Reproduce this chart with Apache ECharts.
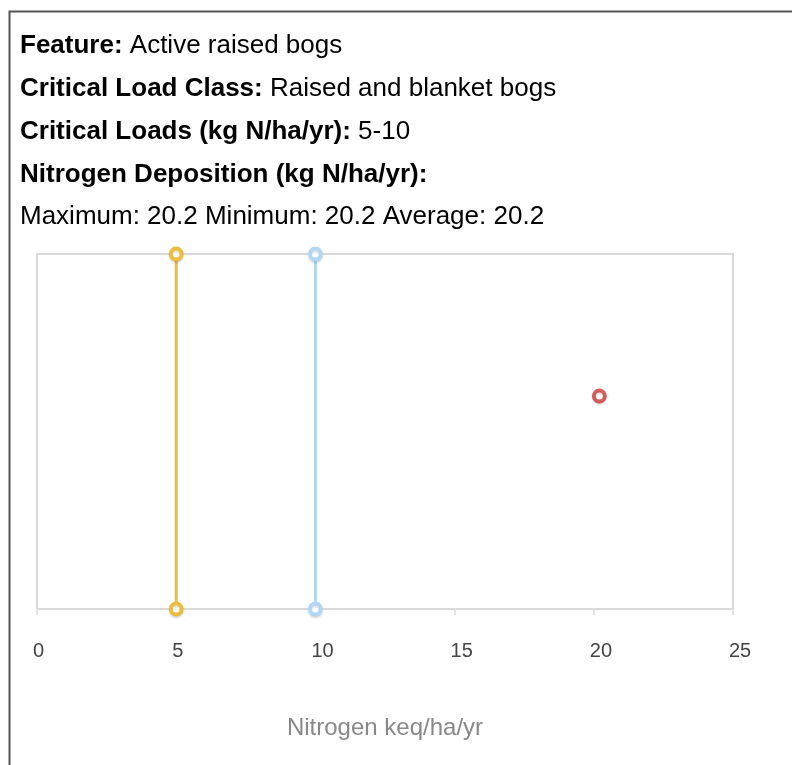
<!DOCTYPE html>
<html>
<head>
<meta charset="utf-8">
<script src="https://cdn.jsdelivr.net/npm/echarts@6/dist/echarts.min.js"></script>
<style>
html,body{margin:0;padding:0;background:#fff;}
#chart{width:792px;height:765px;}
</style>
</head>
<body>
<div id="chart"></div>
<script>
// ---- data ----
var infoLabels = ['Feature:', 'Critical Load Class:', 'Critical Loads (kg N/ha/yr):', 'Nitrogen Deposition (kg N/ha/yr):', ''];
var infoValues = ['Active raised bogs', 'Raised and blanket bogs', '5-10', '', 'Maximum: 20.2 Minimum: 20.2 Average: 20.2'];
var criticalLoadLow = [[5, 0], [5, 1]];
var criticalLoadHigh = [[10, 0], [10, 1]];
var deposition = [[20.2, 0.6]];
var xTicks = [0, 5, 10, 15, 20, 25];
var xAxisName = 'Nitrogen keq/ha/yr';

var FONT = '"Liberation Sans", Arial, sans-serif';
var chart = echarts.init(document.getElementById('chart'), null, {renderer: 'canvas'});

var lineYs = [45, 88, 131, 174, 216];
var texts = infoLabels.map(function (lab, i) {
  var t = (lab ? '{b|' + lab + '}' : '') + (infoValues[i] ? (lab ? ' ' : '') + '{r|' + infoValues[i] + '}' : '');
  return {
    type: 'text', left: 20, top: lineYs[i] - 12, silent: true,
    style: {
      text: t, fontFamily: FONT, fontSize: 26,
      rich: {
        b: {fontWeight: 'bold', color: '#222', fontSize: 26, fontFamily: FONT},
        r: {color: '#333', fontSize: 26, fontFamily: FONT}
      }
    }
  };
});
texts.unshift({
  type: 'rect', left: 7, top: 9, silent: true, z: -1,
  shape: {width: 800, height: 800},
  style: {fill: 'none', stroke: '#555', lineWidth: 2}
});

var sym = function (c) {
  return {color: '#fff', borderColor: c, borderWidth: 4,
    shadowColor: 'rgba(0,0,0,0.12)', shadowBlur: 2, shadowOffsetY: 2};
};

chart.setOption({
  animation: false,
  backgroundColor: '#fff',
  graphic: texts,
  grid: {left: 37, right: 59, top: 254, bottom: 156, show: true, borderColor: '#d9d9d9', borderWidth: 2, backgroundColor: 'transparent'},
  xAxis: {
    type: 'value', min: xTicks[0], max: xTicks[xTicks.length - 1], interval: 5,
    name: xAxisName, nameLocation: 'middle', nameGap: 107,
    nameTextStyle: {color: '#888', fontSize: 24, fontFamily: FONT},
    axisLine: {show: true, lineStyle: {color: '#d9d9d9', width: 2}},
    axisTick: {show: true, length: 6, lineStyle: {color: '#e3e3e3', width: 2}},
    axisLabel: {color: '#444', fontSize: 20, fontFamily: FONT, margin: 32, align: 'left',
      padding: [0, 0, 0, -4],
      formatter: function (v) { return String(v); }},
    splitLine: {show: false}
  },
  yAxis: {type: 'value', min: 0, max: 1, show: false},
  series: [
    {type: 'line', data: criticalLoadLow, symbol: 'circle', symbolSize: 11,
      lineStyle: {color: '#ecbd3d', width: 3},
      itemStyle: sym('#ecbd3d'), z: 3},
    {type: 'line', data: criticalLoadHigh, symbol: 'circle', symbolSize: 11,
      lineStyle: {color: '#b1d7f6', width: 3},
      itemStyle: sym('#b1d7f6'), z: 3},
    {type: 'scatter', data: deposition, symbol: 'circle', symbolSize: 11,
      itemStyle: sym('#cc3a3a'), z: 4}
  ]
});
</script>
</body>
</html>
